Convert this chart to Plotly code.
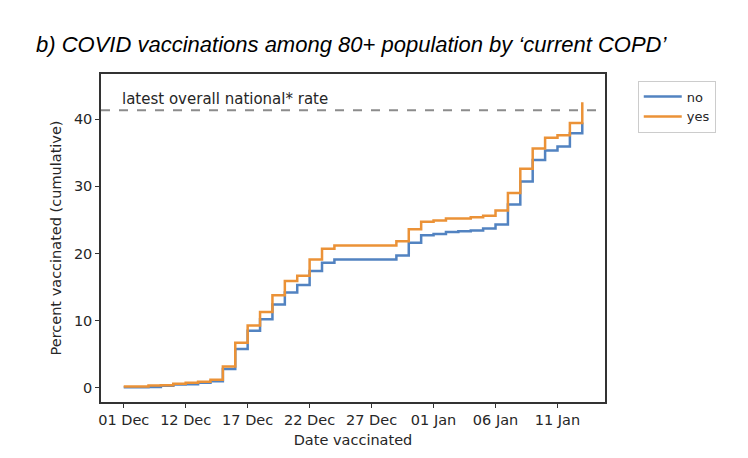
import pandas as pd
import plotly.graph_objects as go

# daily cumulative % vaccinated, 07 Dec 2020 .. 13 Jan 2021
dates = pd.date_range("2020-12-07", "2021-01-13", freq="D")
no_copd = [0.1, 0.1, 0.15, 0.3, 0.5, 0.55, 0.75, 1.0, 2.8, 5.8,
           8.5, 10.2, 12.4, 14.2, 15.3, 17.4, 18.6, 19.1, 19.1, 19.1,
           19.1, 19.1, 19.7, 21.6, 22.7, 22.9, 23.2, 23.3, 23.4, 23.7,
           24.3, 27.3, 30.7, 33.9, 35.3, 35.9, 37.9, 39.5]
yes_copd = [0.2, 0.2, 0.35, 0.4, 0.6, 0.75, 0.9, 1.2, 3.2, 6.7,
            9.3, 11.3, 13.8, 15.9, 16.7, 19.1, 20.7, 21.2, 21.2, 21.2,
            21.2, 21.2, 21.8, 23.6, 24.7, 24.9, 25.2, 25.2, 25.4, 25.6,
            26.4, 29.0, 32.6, 35.6, 37.2, 37.6, 39.4, 42.5]
national_rate = 41.3

tick_dates = pd.date_range("2020-12-07", "2021-01-11", freq="5D")
tick_labels = ["01 Dec", "12 Dec", "17 Dec", "22 Dec", "27 Dec", "01 Jan", "06 Jan", "11 Jan"]

font = "DejaVu Sans"

fig = go.Figure()
fig.add_trace(go.Scatter(x=dates, y=no_copd, name="no", mode="lines",
                         line=dict(color="#5283c1", width=2.5, shape="hv")))
fig.add_trace(go.Scatter(x=dates, y=yes_copd, name="yes", mode="lines",
                         line=dict(color="#eb9237", width=2.5, shape="hv")))

fig.add_hline(y=national_rate, line=dict(color="#8c8c8c", width=2, dash="dash"))
fig.add_annotation(x=dates[0], y=national_rate, text="latest overall national* rate",
                   xanchor="left", yanchor="bottom", showarrow=False, xshift=-4,
                   font=dict(family=font, size=15, color="#262626"))

# page body has an 8px margin, so the figure is 8px smaller than the window
fig.update_layout(
    width=740, height=450,
    margin=dict(l=93, r=143, t=66, b=56),
    paper_bgcolor="white", plot_bgcolor="white",
    font=dict(family=font, size=14.5, color="#262626"),
    title=dict(text="b) COVID vaccinations among 80+ population by \u2018current COPD\u2019",
               x=28 / 740, xanchor="left", xref="container",
               y=1 - 36 / 450, yanchor="middle",
               font=dict(family="Liberation Sans", size=22, color="black", style="italic")),
    legend=dict(x=1.065, y=0.98, xanchor="left", yanchor="top",
                bordercolor="#cccccc", borderwidth=1, bgcolor="white",
                itemwidth=38, font=dict(family=font, size=13)),
    xaxis=dict(range=["2020-12-05 04:00", "2021-01-14 20:00"],
               tickvals=tick_dates, ticktext=tick_labels,
               showline=True, mirror=True, linecolor="#333333", linewidth=1.5,
               ticks="outside", ticklen=4, tickcolor="#333333",
               showgrid=False, zeroline=False,
               title=dict(text="Date vaccinated", standoff=8,
                          font=dict(family=font, size=14.5))),
    yaxis=dict(range=[-2.1, 46.7], tickvals=[0, 10, 20, 30, 40],
               showline=True, mirror=True, linecolor="#333333", linewidth=1.5,
               ticks="outside", ticklen=4, tickcolor="#333333",
               showgrid=False, zeroline=False,
               title=dict(text="Percent vaccinated (cumulative)", standoff=9,
                          font=dict(family=font, size=14.5))),
)

fig.write_html("out.html")
